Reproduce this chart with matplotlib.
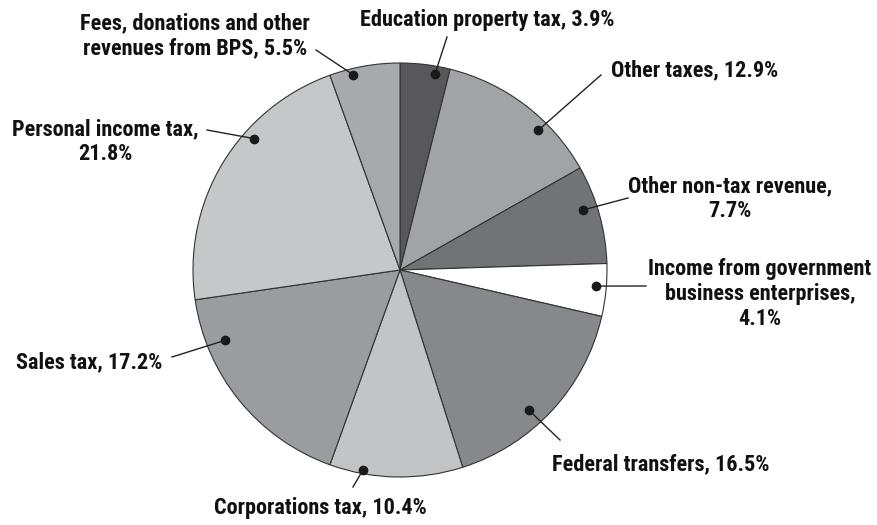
import numpy as np
import matplotlib
matplotlib.use("Agg")
import matplotlib.pyplot as plt
from matplotlib import font_manager
from matplotlib.font_manager import FontProperties
from matplotlib.textpath import TextPath

# datos del grafico (sentido horario desde arriba)
categorias = ["Education property tax", "Other taxes", "Other non-tax revenue",
              "Income from government business enterprises", "Federal transfers",
              "Corporations tax", "Sales tax", "Personal income tax",
              "Fees, donations and other revenues from BPS"]
porcentajes = [3.9, 12.9, 7.7, 4.1, 16.5, 10.4, 17.2, 21.8, 5.5]
etiquetas = ["Education property tax, 3.9%",
             "Other taxes, 12.9%",
             "Other non-tax revenue,\n7.7%",
             "Income from government\nbusiness enterprises,\n4.1%",
             "Federal transfers, 16.5%",
             "Corporations tax, 10.4%",
             "Sales tax, 17.2%",
             "Personal income tax,\n21.8%",
             "Fees, donations and other\nrevenues from BPS, 5.5%"]
colores = ["#58585a", "#a2a3a6", "#727376", "#ffffff", "#87888b",
           "#c3c4c6", "#9b9c9f", "#c6c7c9", "#a8a9ac"]

# posicion del punto dentro de cada porcion (fraccion del angulo, fraccion del radio)
punto_frac = [(0.72, 0.96), (0.66, 0.95), (0.41, 0.93), (0.44, 0.95), (0.58, 0.92),
              (0.75, 0.98), (0.78, 0.91), (0.64, 0.95), (0.32, 0.97)]
# posicion del texto y extremo de la linea guia (pixeles, y hacia abajo)
texto_pos = [(487, 20), (695, 70), (730, 199), (760, 294), (661, 464),
             (320, 508), (89, 362), (105, 142), (195, 36)]
guia_fin = [(447, 37), (601, 75), (628, 198), (646, 286), (560, 440),
            (353, 487), (172, 357), (207, 130), (316, 50)]

# buscar una fuente estrecha (tipo Arial Narrow) con negrita
pesos = {}
for f in font_manager.fontManager.ttflist:
    w = f.weight if isinstance(f.weight, int) else 700
    pesos.setdefault(f.name, set()).add(w)
candidatas = ["Liberation Sans Narrow", "Arial Narrow", "Roboto Condensed",
              "Archivo Narrow", "IBM Plex Sans Condensed", "Sofia Sans Condensed",
              "PT Sans Narrow", "Encode Sans Condensed", "Fira Sans Condensed",
              "Asap Condensed", "Barlow Semi Condensed", "Pragati Narrow",
              "Open Sans Condensed"]
ratio_ref = 166 / 16.3   # ancho de "Other taxes, 12.9%" / altura de mayuscula
familia, mejor = "DejaVu Sans", 1e9
for i, cand in enumerate(candidatas):
    if cand not in pesos or max(pesos[cand]) < 700:
        continue
    fp = FontProperties(family=cand, weight="bold")
    ancho = TextPath((0, 0), etiquetas[1], size=100, prop=fp).get_extents().width
    alto = TextPath((0, 0), "H", size=100, prop=fp).get_extents().height
    err = abs(ancho / alto / ratio_ref - 1) + 0.01 * i
    if err < mejor:
        familia, mejor = cand, err

fp = FontProperties(family=familia, weight="bold")
ancho = TextPath((0, 0), etiquetas[1], size=100, prop=fp).get_extents().width
tam = 100 * 166 / ancho * 72 / 100   # puntos a 100 dpi

W, H = 878, 525
fig = plt.figure(figsize=(W / 100, H / 100), dpi=100)
ax = fig.add_axes([0, 0, 1, 1])

centro = (400, H - 270)
radio = 207
wedges, _ = ax.pie(porcentajes, colors=colores, startangle=90, counterclock=False,
                   center=centro, radius=radio, frame=True,
                   wedgeprops=dict(edgecolor="#333333", linewidth=0.8))
ax.set_xlim(0, W)
ax.set_ylim(0, H)
ax.set_aspect("equal")
ax.axis("off")

for w, (fa, fr), lab, (tx, ty), (gx, gy) in zip(wedges, punto_frac, etiquetas,
                                                 texto_pos, guia_fin):
    # wedges van en sentido horario: theta2 -> theta1
    ang = np.deg2rad(w.theta2 - fa * (w.theta2 - w.theta1))
    px = centro[0] + fr * radio * np.cos(ang)
    py = centro[1] + fr * radio * np.sin(ang)
    ax.plot([px, gx], [py, H - gy], color="#222222", lw=1.0, zorder=3)
    ax.plot(px, py, "o", color="#1a1a1a", ms=6, zorder=4)
    ax.text(tx, H - ty, lab, ha="center", va="center", multialignment="center",
            family=familia, fontweight="bold", fontsize=tam, color="#111111",
            linespacing=1.15)

fig.savefig("out.png", dpi=100)
